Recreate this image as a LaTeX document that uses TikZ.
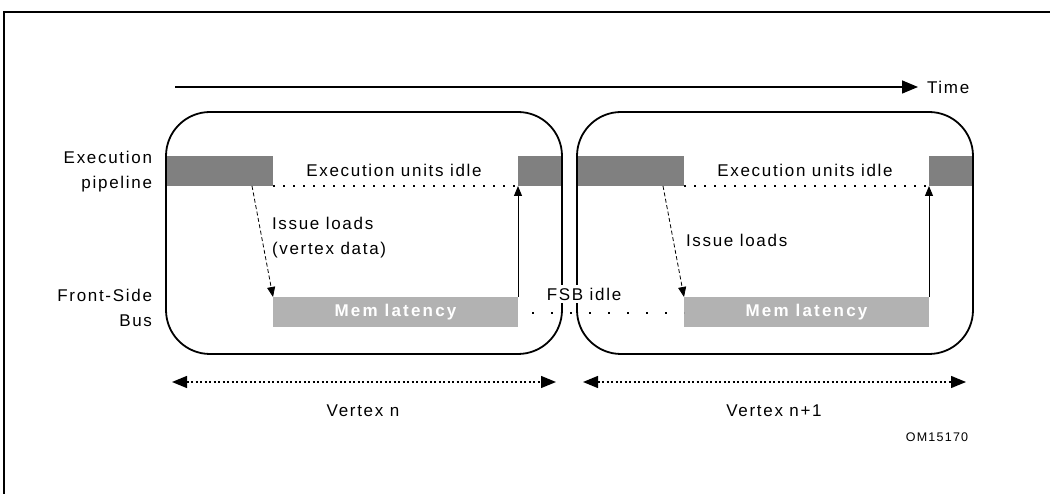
\documentclass[tikz,border=0pt]{standalone}
\usepackage{fontspec}
\setmainfont{Liberation Sans}[LetterSpace=10]
\usetikzlibrary{arrows.meta,calc}
\definecolor{darkbar}{HTML}{808080}
\definecolor{lightbar}{HTML}{B2B2B2}
\tikzset{
  txt/.style={font=\fontsize{17}{25}\selectfont, inner sep=0pt, outer sep=0pt},
  dkbar/.style={fill=darkbar, draw=none, inner sep=0pt, outer sep=0pt, minimum height=30pt, anchor=north west},
  ltbar/.style={fill=lightbar, draw=none, inner sep=0pt, outer sep=0pt, minimum height=30pt, anchor=north west,
     text=white, font=\fontsize{17}{19}\bfseries\selectfont\addfontfeature{LetterSpace=13}},
  vbox/.style={draw=black, line width=1.8pt, rounded corners=44pt, inner sep=0pt, minimum width=396pt, minimum height=242pt},
  idle/.style={line width=1.6pt, dash pattern=on 1.6pt off 8.4pt},
  fsbidle/.style={line width=1.6pt, dash pattern=on 1.6pt off 17.4pt},
  issue/.style={line width=0.8pt, dash pattern=on 4pt off 2.5pt, -{Triangle[length=10pt,width=8pt]}},
  back/.style={line width=1pt, -{Triangle[length=10pt,width=8pt]}},
  span/.style={line width=1.3pt, dash pattern=on 2pt off 2.5pt, {Triangle[length=15pt,width=12pt]}-{Triangle[length=15pt,width=12pt]}},
}
\begin{document}
\begin{tikzpicture}[x=1pt,y=-1pt]
\useasboundingbox (0,0) rectangle (1050,494);
% frame
\draw[line width=2pt] (4,494) -- (4,12) -- (1050,12);

% time axis
\coordinate (t0) at (175,87);
\node[txt, anchor=west] (time) at (927,87) {Time};
\draw[line width=1.5pt, -{Triangle[length=16pt,width=13pt]}] (t0) -- ($(time.west)+(-9,0)$);

% left labels
\node[txt, anchor=east, align=right] (exlab) at (152,172) {Execution\\pipeline};
\node[txt, anchor=east, align=right] (fsblab) at (152,308) {Front-Side\\Bus};

% bars
\node[dkbar, minimum width=107pt] (dk1) at (166,156) {};
\node[dkbar, minimum width=44pt] (dk2) at (518,156) {};
\node[dkbar, minimum width=107pt] (dk3) at (577,156) {};
\node[dkbar, minimum width=44pt] (dk4) at (929,156) {};
\node[ltbar, minimum width=245pt] (mem1) at (273,297) {Mem latency};
\node[ltbar, minimum width=245pt] (mem2) at (684,297) {Mem latency};

% vertex boxes
\node[vbox] (v1) at (364,233) {};
\node[vbox] (v2) at (775,233) {};

% idle execution
\draw[idle] (dk1.south east) -- (dk2.south west);
\draw[idle] (dk3.south east) -- (dk4.south west);
\node[txt] (eu1) at (394,170) {Execution units idle};
\node[txt] (eu2) at (805,170) {Execution units idle};

% issue loads
\coordinate (is1) at (252,186);
\coordinate (is2) at (663,186);
\draw[issue] (is1) -- (mem1.north west);
\draw[issue] (is2) -- (mem2.north west);
\node[txt, anchor=west, align=left] (il1) at (272,238) {Issue loads\\(vertex data)};
\node[txt, anchor=west] (il2) at (686,240) {Issue loads};

% return arrows
\draw[back] (mem1.north east) -- (dk2.south west);
\draw[back] (mem2.north east) -- (dk4.south west);

% FSB idle
\draw[fsbidle] ($(mem1.east)+(14,1)$) -- ($(mem2.west)+(0,1)$);
\node[txt, fill=white, inner xsep=1pt, inner ysep=3pt] (fsb) at (584,294) {FSB idle};

% vertex spans
\coordinate (a1) at (172,382);
\coordinate (b1) at (556,382);
\coordinate (a2) at (583,382);
\coordinate (b2) at (966,382);
\draw[span] (a1) -- (b1);
\draw[span] (a2) -- (b2);
\node[txt] (vn) at (363,411) {Vertex n};
\node[txt] (vn1) at (774,411) {Vertex n+1};

\node[font=\fontsize{12.5}{14}\selectfont, inner sep=0pt] (om) at (937,437) {OM15170};
\end{tikzpicture}
\end{document}
